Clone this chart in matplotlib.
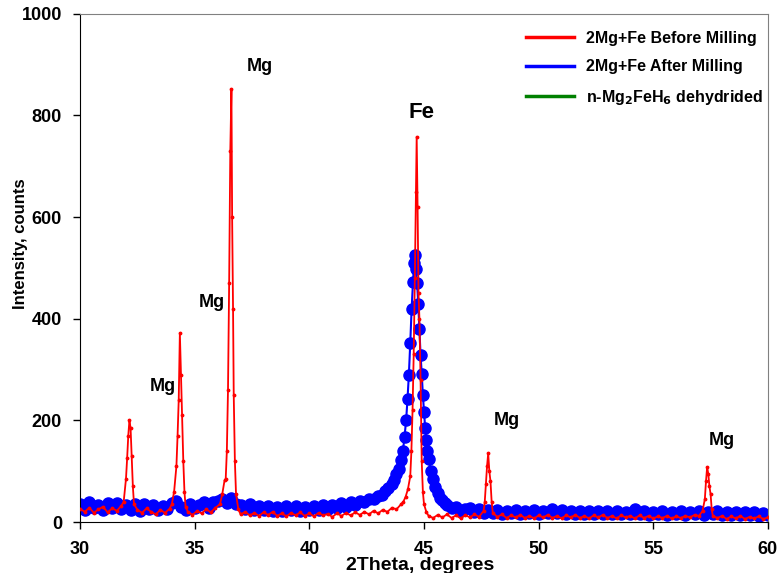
import matplotlib.pyplot as plt
from matplotlib.lines import Line2D

plt.rcParams['font.family'] = ['Liberation Sans', 'DejaVu Sans']
plt.rcParams['font.weight'] = 'bold'

# 2Mg+Fe before milling (red)
before_x = [30.0, 30.2, 30.4, 30.6, 30.8, 31.0, 31.2, 31.4, 31.6, 31.8,
            31.9, 32.0, 32.05, 32.1, 32.15, 32.2, 32.25, 32.3, 32.35,
            32.5, 32.7, 32.9, 33.1, 33.3, 33.5, 33.7, 33.9,
            34.0, 34.1, 34.2, 34.25, 34.3, 34.35, 34.4, 34.45, 34.5, 34.55, 34.6,
            34.7, 34.9, 35.1, 35.3, 35.5, 35.7, 35.9, 36.1,
            36.2, 36.3, 36.35, 36.4, 36.45, 36.5, 36.55, 36.6, 36.63, 36.67, 36.7, 36.75, 36.8, 36.9,
            37.0, 37.2, 37.4, 37.6, 37.8, 38.0, 38.2, 38.4, 38.6, 38.8, 39.0, 39.2, 39.4, 39.6, 39.8,
            40.0, 40.2, 40.4, 40.6, 40.8, 41.0, 41.2, 41.4, 41.6, 41.8, 42.0, 42.2, 42.4, 42.6, 42.8,
            43.0, 43.2, 43.4, 43.6, 43.8, 44.0, 44.1, 44.2, 44.3, 44.4, 44.45, 44.5, 44.55, 44.6,
            44.65, 44.68, 44.72, 44.76, 44.8, 44.85, 44.9, 44.95, 45.0, 45.1, 45.2,
            45.4, 45.6, 45.8, 46.0, 46.2, 46.4, 46.6, 46.8, 47.0, 47.2, 47.4, 47.6,
            47.65, 47.7, 47.75, 47.8, 47.85, 47.9, 47.95, 48.0,
            48.2, 48.4, 48.6, 48.8, 49.0, 49.2, 49.4, 49.6, 49.8, 50.0, 50.2, 50.4, 50.6, 50.8,
            51.0, 51.2, 51.4, 51.6, 51.8, 52.0, 52.2, 52.4, 52.6, 52.8, 53.0, 53.2, 53.4, 53.6, 53.8,
            54.0, 54.2, 54.4, 54.6, 54.8, 55.0, 55.2, 55.4, 55.6, 55.8, 56.0, 56.2, 56.4, 56.6, 56.8,
            57.0, 57.15, 57.25, 57.3, 57.35, 57.4, 57.45, 57.5, 57.55, 57.6,
            57.8, 58.0, 58.2, 58.4, 58.6, 58.8, 59.0, 59.2, 59.4, 59.6, 59.8, 60.0]
before_y = [26, 20, 28, 18, 25, 30, 19, 27, 22, 32,
            40, 85, 125, 170, 200, 185, 130, 70, 35,
            24, 18, 27, 20, 15, 24, 18, 26,
            35, 60, 110, 170, 240, 372, 290, 210, 120, 60, 30,
            20, 14, 22, 17, 25, 19, 28, 35,
            55, 82, 85, 140, 260, 470, 730, 852, 600, 420, 250, 120, 55, 25,
            15, 20, 13, 18, 12, 19, 14, 20, 12, 17, 11, 18, 13, 19, 12,
            17, 11, 18, 13, 16, 10, 17, 12, 18, 13, 19, 14, 20, 15, 22,
            17, 24, 20, 28, 25, 35, 40, 50, 65, 90, 140, 220, 330, 480,
            650, 758, 620, 450, 400, 280, 120, 60, 35, 20, 12,
            8, 14, 9, 15, 8, 13, 7, 14, 9, 15, 10, 22,
            40, 75, 110, 135, 100, 80, 40, 18,
            10, 15, 8, 13, 9, 14, 8, 12, 7, 13, 9, 14, 8, 12,
            7, 13, 9, 14, 8, 12, 7, 13, 9, 14, 8, 12, 7, 13, 9,
            12, 7, 13, 8, 12, 7, 11, 8, 12, 7, 11, 8, 12, 9, 14,
            12, 22, 45, 80, 108, 95, 70, 55, 25, 12,
            8, 12, 6, 11, 7, 12, 6, 10, 7, 11, 6, 9]

# 2Mg+Fe after milling (blue)
after_x = [30.0, 30.2, 30.4, 30.6, 30.8, 31.0, 31.2, 31.4, 31.6, 31.8,
           32.0, 32.2, 32.4, 32.6, 32.8, 33.0, 33.2, 33.4, 33.6, 33.8,
           34.0, 34.2, 34.4, 34.6, 34.8, 35.0, 35.2, 35.4, 35.6, 35.8,
           36.0, 36.2, 36.4, 36.6, 36.8, 37.0, 37.2, 37.4, 37.6, 37.8,
           38.0, 38.2, 38.4, 38.6, 38.8, 39.0, 39.2, 39.4, 39.6, 39.8,
           40.0, 40.2, 40.4, 40.6, 40.8, 41.0, 41.2, 41.4, 41.6, 41.8,
           42.0, 42.2, 42.4, 42.6, 42.8, 43.0, 43.15, 43.3, 43.45, 43.6, 43.7, 43.8, 43.9,
           44.0, 44.08, 44.15, 44.22, 44.28, 44.34, 44.4, 44.46, 44.52, 44.57, 44.61,
           44.65, 44.7, 44.75, 44.8, 44.85, 44.9, 44.95, 45.0, 45.05, 45.1, 45.15, 45.2,
           45.3, 45.4, 45.5, 45.6, 45.7, 45.8, 45.9, 46.0, 46.2, 46.4, 46.6, 46.8,
           47.0, 47.2, 47.4, 47.6, 47.8, 48.0, 48.2, 48.4, 48.6, 48.8,
           49.0, 49.2, 49.4, 49.6, 49.8, 50.0, 50.2, 50.4, 50.6, 50.8,
           51.0, 51.2, 51.4, 51.6, 51.8, 52.0, 52.2, 52.4, 52.6, 52.8,
           53.0, 53.2, 53.4, 53.6, 53.8, 54.0, 54.2, 54.4, 54.6, 54.8,
           55.0, 55.2, 55.4, 55.6, 55.8, 56.0, 56.2, 56.4, 56.6, 56.8,
           57.0, 57.2, 57.4, 57.6, 57.8, 58.0, 58.2, 58.4, 58.6, 58.8,
           59.0, 59.2, 59.4, 59.6, 59.8, 60.0]
after_y = [36, 24, 39, 27, 33, 23, 37, 28, 38, 25,
           33, 24, 35, 22, 36, 26, 34, 23, 32, 25,
           37, 41, 30, 24, 36, 27, 34, 39, 28, 40,
           42, 46, 38, 47, 36, 34, 26, 35, 24, 32,
           23, 31, 22, 30, 21, 31, 23, 32, 21, 29,
           23, 32, 24, 33, 25, 34, 28, 37, 30, 39,
           34, 41, 39, 46, 45, 52, 54, 61, 66, 75, 82, 94, 105,
           122, 140, 168, 200, 242, 290, 352, 420, 472, 510, 525,
           498, 470, 428, 380, 328, 292, 250, 216, 185, 162, 140, 124,
           100, 84, 68, 58, 48, 43, 37, 34, 27, 29, 22, 25,
           27, 19, 25, 17, 24, 18, 23, 16, 22, 18,
           23, 16, 22, 17, 24, 16, 22, 18, 25, 17,
           23, 16, 21, 15, 21, 16, 22, 15, 21, 16,
           22, 15, 21, 16, 20, 15, 26, 16, 21, 14,
           20, 15, 21, 14, 20, 15, 21, 14, 20, 15,
           21, 14, 20, 15, 21, 14, 20, 13, 19, 14,
           20, 13, 19, 12, 18, 13]

series_labels = ['2Mg+Fe Before Milling', '2Mg+Fe After Milling',
                 'n-Mg$_2$FeH$_6$ dehydrided']

# peak labels: (text, x, y)
peak_labels = [('Mg', 33.6, 266), ('Mg', 35.75, 432), ('Mg', 37.85, 897),
               ('Mg', 48.6, 199), ('Mg', 58.0, 160)]

fig = plt.figure(figsize=(7.78, 5.73), dpi=100)
ax = fig.add_axes([0.103, 0.089, 0.884, 0.887])

ax.plot(after_x, after_y, color='blue', marker='o', markersize=8, lw=1.5, zorder=2)
ax.plot(before_x, before_y, color='red', marker='.', markersize=3.5, lw=1.3, zorder=3)

for txt, px, py in peak_labels:
    ax.text(px, py, txt, fontsize=13, fontweight='bold', ha='center', va='center')
ax.text(44.87, 806, 'Fe', fontsize=16, fontweight='bold', ha='center', va='center')

ax.set_xlim(30, 60)
ax.set_ylim(0, 1000)
ax.set_xticks(range(30, 61, 5))
ax.set_yticks(range(0, 1001, 200))
ax.tick_params(labelsize=13, direction='out', length=5, width=1)
ax.tick_params(axis='x', pad=9)
ax.tick_params(axis='y', pad=8)
for lab in ax.get_xticklabels() + ax.get_yticklabels():
    lab.set_fontweight('bold')
ax.set_xlabel('2Theta, degrees', fontsize=14, fontweight='bold')
ax.xaxis.set_label_coords(0.494, -0.068)
ax.set_ylabel('Intensity, counts', fontsize=12, fontweight='bold')
ax.yaxis.set_label_coords(-0.076, 0.547)
ax.spines['top'].set_color('#808080')
ax.spines['right'].set_color('#808080')

handles = [Line2D([], [], color='red', lw=2.5),
           Line2D([], [], color='blue', lw=2.5),
           Line2D([], [], color='green', lw=2.5)]
ax.legend(handles, series_labels, loc='upper left', bbox_to_anchor=(0.628, 0.995),
          frameon=False, prop={'size': 11.5, 'weight': 'bold'}, labelspacing=0.85,
          handlelength=3.0, handletextpad=0.7)

fig.savefig('out.png', dpi=100)
